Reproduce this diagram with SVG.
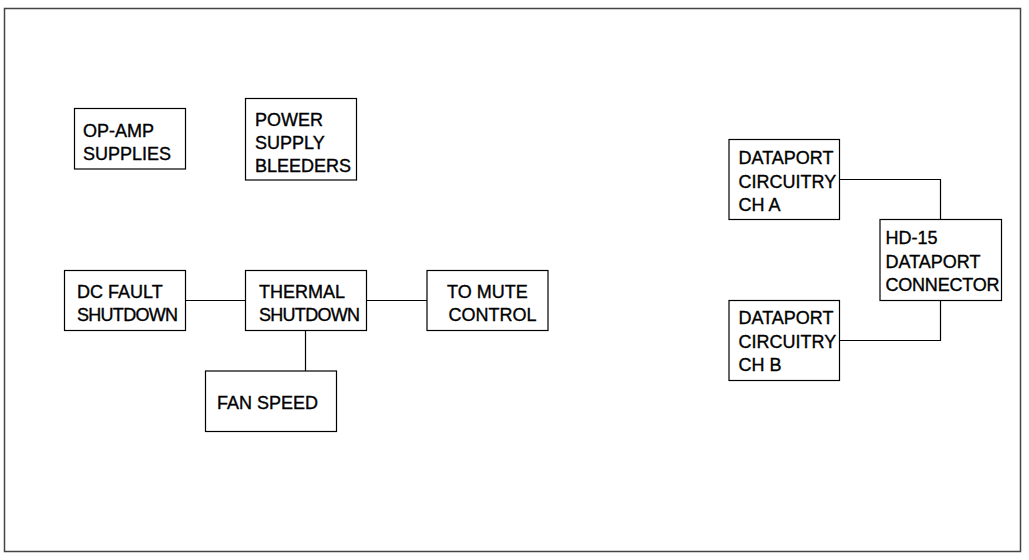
<svg xmlns="http://www.w3.org/2000/svg" width="1029" height="560" viewBox="0 0 1029 560">
<style>
.box{fill:#fff;stroke:#000;stroke-width:1.2}
.frame{fill:#fff;stroke:#444;stroke-width:1.5}
.wire{fill:none;stroke:#000;stroke-width:1.2}
text{font-family:"Liberation Sans",Arial,sans-serif;font-size:18px;fill:#000;stroke:#000;stroke-width:0.35}
</style>
<rect class="frame" x="4.5" y="8.5" width="1016" height="543"/>
<g id="connectors">
<line class="wire" x1="185" y1="300.5" x2="245.5" y2="300.5"/>
<line class="wire" x1="366" y1="300.5" x2="427" y2="300.5"/>
<line class="wire" x1="305.5" y1="330" x2="305.5" y2="371"/>
<polyline class="wire" points="839,179.5 940.5,179.5 940.5,219.5"/>
<polyline class="wire" points="839,340.5 940.5,340.5 940.5,300.5"/>
</g>
<g id="opamp">
<rect class="box" x="74.5" y="108.5" width="111" height="60.5"/>
<text x="83" y="136.5">OP-AMP</text>
<text x="83" y="160">SUPPLIES</text>
</g>
<g id="bleeders">
<rect class="box" x="245.5" y="98.5" width="111" height="81.5"/>
<text x="255" y="125.5">POWER</text>
<text x="255" y="148.5">SUPPLY</text>
<text x="255" y="171.5">BLEEDERS</text>
</g>
<g id="dcfault">
<rect class="box" x="64.5" y="270.5" width="121" height="60"/>
<text x="77" y="297.5">DC FAULT</text>
<text x="77" y="321" textLength="101">SHUTDOWN</text>
</g>
<g id="thermal">
<rect class="box" x="245.5" y="270.5" width="121" height="60"/>
<text x="259" y="297.5">THERMAL</text>
<text x="259" y="321" textLength="101">SHUTDOWN</text>
</g>
<g id="mute">
<rect class="box" x="427" y="270.5" width="121" height="60"/>
<text x="447" y="297.5">TO MUTE</text>
<text x="448.5" y="321">CONTROL</text>
</g>
<g id="fan">
<rect class="box" x="205.5" y="371" width="131" height="60.5"/>
<text x="217" y="409">FAN SPEED</text>
</g>
<g id="dpa">
<rect class="box" x="729" y="139.5" width="110.5" height="80"/>
<text x="738.5" y="163.5">DATAPORT</text>
<text x="738.5" y="187.5">CIRCUITRY</text>
<text x="738.5" y="211">CH  A</text>
</g>
<g id="hd15">
<rect class="box" x="880" y="219.5" width="121.5" height="81"/>
<text x="885.5" y="244">HD-15</text>
<text x="885.5" y="267.5">DATAPORT</text>
<text x="885.5" y="290.5" textLength="114">CONNECTOR</text>
</g>
<g id="dpb">
<rect class="box" x="729" y="300.5" width="110.5" height="80"/>
<text x="738.5" y="324">DATAPORT</text>
<text x="738.5" y="348">CIRCUITRY</text>
<text x="738.5" y="371">CH  B</text>
</g>
</svg>
